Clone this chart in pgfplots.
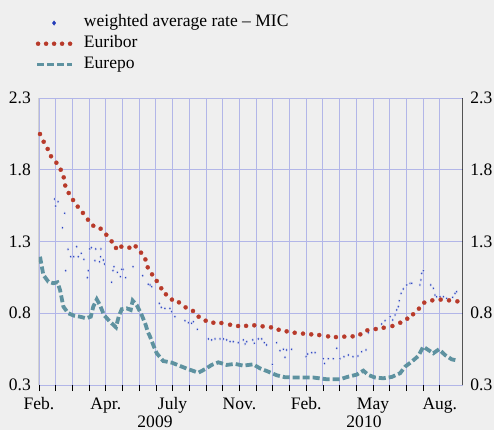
\documentclass[border=0pt]{standalone}
\usepackage{fontspec}
\setmainfont{Liberation Serif}
\usepackage{pgfplots}
\pgfplotsset{compat=1.18}
\definecolor{bgcol}{RGB}{239,239,239}
\definecolor{gridcol}{RGB}{178,182,232}
\definecolor{euribor}{RGB}{184,58,42}
\definecolor{eurepo}{RGB}{94,146,160}
\definecolor{mic}{RGB}{35,60,185}
\pgfplotsset{
  micleg/.style={legend image code/.code={\draw[##1, mark size=2.2bp, mark options={draw=mic}] plot coordinates {(17bp,0bp)};}},
  eurleg/.style={legend image code/.code={\draw[##1] plot coordinates {(1bp,0bp)(9bp,0bp)(17bp,0bp)(25bp,0bp)(33bp,0bp)};}},
  repleg/.style={legend image code/.code={\draw[##1] (0bp,0bp) -- (35bp,0bp);}},
}
\begin{document}
\begin{tikzpicture}[font=\fontsize{17.6}{21}\selectfont]
\fill[bgcol] (-39bp,-45bp) rectangle (455bp,385bp);
\useasboundingbox (-39bp,-45bp) rectangle (455bp,385bp);
\begin{axis}[
  scale only axis, width=423.7bp, height=287bp,
  xmin=0, xmax=25.37, ymin=0.3, ymax=2.3,
  axis line style={draw=none},
  xtick={0,...,24},
  xticklabels={Feb.,,,,Apr.,,,,July,,,,Nov.,,,,Feb.,,,,May,,,,Aug.},
  ytick={0.3,0.8,1.3,1.8,2.3},
  yticklabels={0.3,0.8,1.3,1.8,2.3},
  xtick pos=left, ytick pos=left,
  xtick align=outside, ytick align=inside,
  major tick length=6bp,
  xtick style={black, line width=0.8bp},
  ytick style={draw=none},
  xmajorgrids, ymajorgrids,
  major grid style={gridcol, line width=0.9bp},
  yticklabel style={inner sep=0pt, xshift=-8bp},
  xticklabel style={anchor=base, inner sep=0pt, text depth=0pt, yshift=-18bp},
  legend style={at={(0,1)}, anchor=south west, xshift=-4bp, yshift=23bp,
    draw=none, fill=none, inner sep=0pt, row sep=0pt, column sep=10bp,
    nodes={inner sep=0pt, text height=14bp, text depth=6.7bp, anchor=west}},
  legend cell align=left,
]
\addplot[color=mic, only marks, mark=diamond*, mark size=1.5bp, mark options={solid, fill=mic, draw=white, line width=0.25bp}, micleg]
coordinates {
(0.94,1.596)(1.00,1.547)(1.14,1.577)(1.40,1.396)(1.54,1.497)(1.60,1.097)(1.74,1.246)(1.90,1.194)
(2.08,1.194)(2.26,1.264)(2.35,1.194)(2.53,1.218)(2.69,1.176)(2.89,1.048)(2.95,1.097)(3.04,1.248)
(3.13,1.257)(3.35,1.166)(3.40,1.248)(3.63,1.159)(3.69,1.194)(3.71,1.248)(3.85,1.171)(3.93,1.143)
(4.35,1.016)(4.43,1.097)(4.49,1.124)(4.69,1.085)(4.87,1.055)(4.95,1.106)(5.03,1.106)(5.19,1.048)
(5.63,1.124)(6.21,1.062)(6.54,1.002)(6.65,0.997)(6.75,0.985)(7.20,0.869)(7.32,0.841)(7.54,0.834)
(7.84,0.834)(7.95,0.811)(8.14,0.776)(8.74,0.748)(8.94,0.734)(9.14,0.730)(9.24,0.741)(9.48,0.688)
(10.14,0.621)(10.34,0.614)(10.54,0.621)(10.84,0.621)(11.04,0.621)(11.24,0.614)(11.44,0.602)(11.63,0.602)
(11.93,0.595)(12.23,0.614)(12.34,0.586)(12.44,0.602)(12.80,0.614)(12.89,0.591)(13.13,0.621)(13.34,0.621)
(13.49,0.595)(13.63,0.579)(13.97,0.444)(14.23,0.595)(14.43,0.539)(14.63,0.549)(14.73,0.493)(14.83,0.544)
(15.13,0.549)(15.99,0.497)(16.09,0.516)(16.33,0.525)(16.53,0.525)(17.02,0.483)(17.10,0.45)(17.32,0.483)
(17.62,0.483)(17.83,0.556)(18.02,0.483)(18.26,0.497)(18.52,0.509)(18.80,0.497)(19.10,0.502)(19.32,0.532)
(19.58,0.544)(19.72,0.664)(20.22,0.695)(20.52,0.725)(20.72,0.748)(21.02,0.776)(21.18,0.753)(21.32,0.788)
(21.42,0.823)(21.51,0.846)(21.57,0.887)(21.68,0.939)(21.81,0.969)(22.02,0.997)(22.22,1.009)(22.32,1.009)
(22.81,0.997)(22.87,1.032)(22.92,1.078)(23.01,1.097)(23.46,0.997)(23.61,0.974)(23.71,0.927)(23.81,0.915)
(24.01,0.915)(24.21,0.915)(24.41,0.904)(24.77,0.911)(24.91,0.939)(25.01,0.950)
};
\addlegendentry{weighted average rate -- MIC}
\addplot[color=euribor, only marks, mark=*, mark size=2.1bp, mark options={solid, fill=euribor, draw=euribor, line width=0.2bp}, eurleg]
coordinates {
(0.06,2.049)(0.28,1.995)(0.52,1.945)(0.72,1.894)(1.04,1.849)(1.30,1.800)(1.48,1.747)(1.57,1.690)
(1.78,1.638)(2.04,1.589)(2.32,1.543)(2.63,1.499)(2.93,1.452)(3.25,1.410)(3.69,1.389)(4.03,1.347)
(4.35,1.301)(4.61,1.255)(4.93,1.264)(5.41,1.257)(5.79,1.266)(6.11,1.222)(6.37,1.175)(6.51,1.120)
(6.77,1.071)(7.05,1.025)(7.32,0.974)(7.60,0.932)(7.96,0.895)(8.38,0.876)(8.78,0.841)(9.22,0.816)
(9.56,0.776)(9.98,0.748)(10.44,0.734)(10.92,0.732)(11.44,0.720)(11.92,0.711)(12.40,0.712)(12.89,0.716)
(13.39,0.709)(13.89,0.702)(14.35,0.685)(14.83,0.674)(15.31,0.664)(15.81,0.658)(16.30,0.653)(16.78,0.648)
(17.31,0.639)(17.78,0.634)(18.28,0.637)(18.78,0.639)(19.24,0.653)(19.66,0.681)(20.16,0.690)(20.64,0.699)
(21.16,0.711)(21.63,0.734)(22.05,0.762)(22.40,0.793)(22.75,0.832)(23.07,0.874)(23.55,0.890)(24.05,0.895)
(24.55,0.890)(25.05,0.883)
};
\addlegendentry{Euribor}
\addplot[eurepo, line width=3.8bp, dash pattern=on 7bp off 3bp, no marks, repleg]
coordinates {
(0.06,1.194)(0.26,1.067)(0.56,1.02)(0.86,1.009)(1.10,1.016)(1.26,0.962)(1.46,0.846)(1.75,0.80)
(2.10,0.783)(2.46,0.776)(2.81,0.765)(3.10,0.776)(3.25,0.846)(3.46,0.897)(3.65,0.857)(3.89,0.788)
(4.25,0.741)(4.61,0.702)(4.77,0.776)(4.95,0.828)(5.25,0.834)(5.49,0.823)(5.61,0.888)(5.85,0.857)
(6.15,0.788)(6.39,0.718)(6.51,0.672)(6.65,0.637)(6.84,0.579)(7.05,0.521)(7.44,0.467)(7.95,0.456)
(8.44,0.433)(8.94,0.41)(9.54,0.386)(9.94,0.41)(10.34,0.44)(10.74,0.458)(11.24,0.44)(11.74,0.447)
(12.23,0.435)(12.83,0.444)(13.23,0.416)(13.73,0.393)(14.23,0.368)(14.73,0.354)(15.53,0.352)(16.43,0.352)
(17.23,0.34)(18.02,0.34)(18.52,0.358)(19.02,0.372)(19.42,0.40)(19.72,0.37)(20.12,0.352)(20.62,0.347)
(21.12,0.356)(21.62,0.382)(21.92,0.428)(22.32,0.463)(22.71,0.502)(23.01,0.567)(23.31,0.544)(23.61,0.521)
(23.95,0.549)(24.31,0.509)(24.71,0.479)(25.05,0.47)
};
\addlegendentry{Eurepo}
\draw[black, line width=1bp] (rel axis cs:0,0) -- (rel axis cs:0,1);
\draw[black, line width=1bp] (rel axis cs:1,0) -- (rel axis cs:1,1);
\draw[black, line width=1bp] (rel axis cs:0,0) -- (rel axis cs:1,0);
\end{axis}
\begin{axis}[
  scale only axis, width=423.7bp, height=287bp,
  xmin=0, xmax=25.37, ymin=0.3, ymax=2.3,
  axis line style={draw=none}, hide x axis,
  ytick={0.3,0.8,1.3,1.8,2.3},
  yticklabels={0.3,0.8,1.3,1.8,2.3},
  yticklabel pos=right, ytick align=inside,
  ytick style={draw=none},
  yticklabel style={inner sep=0pt, xshift=7.5bp},
]
\end{axis}
\node[anchor=base, inner sep=0pt] at (116bp,-42bp) {2009};
\node[anchor=base, inner sep=0pt] at (325bp,-42bp) {2010};
\end{tikzpicture}
\end{document}
